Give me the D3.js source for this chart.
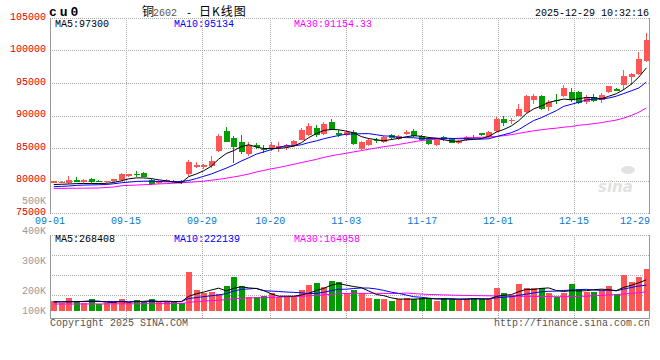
<!DOCTYPE html>
<html>
<head>
<meta charset="utf-8">
<script src="https://cdn.jsdelivr.net/npm/d3@7"></script>
<style>
  body { margin: 0; background: #fff; }
  svg { display: block; }
  text { font-family: "Liberation Mono", "DejaVu Sans Mono", monospace; font-size: 10px; }
</style>
</head>
<body>
<svg width="660" height="360"></svg>
<script>
// Daily candles, 80 trading days (09-01 .. 12-29)
const opens = [79650,79750,79550,80050,79700,80300,79900,79700,79850,80100,
  80650,80950,81100,80150,79650,80000,79950,80000,80950,82150,
  82100,82250,84550,87550,86600,85900,84050,85450,84900,84870,
  85000,85200,85260,86290,87010,88150,87170,88970,87370,87060,
  87450,84900,85410,86280,85870,86940,86400,87110,87680,86800,
  86450,85470,86650,86430,85820,86180,86750,87250,86740,87600,
  89490,89250,90000,90510,92450,92960,91330,92400,92960,93570,
  93570,92040,92810,92450,93570,94080,94750,95870,96380,98320];
const highs = [79900,79950,80750,80500,80200,80450,80050,80000,80300,81200,
  81050,81500,81300,80200,80100,80250,80050,80100,83100,82900,
  82500,83700,87150,88250,86850,87000,85850,85700,85500,86000,
  86000,85650,86300,88100,88870,88600,88970,89480,87700,87700,
  87840,86100,86500,86600,86800,87100,87000,87750,87900,86950,
  86700,86400,86850,86500,86300,86900,87050,87350,87600,89700,
  89900,89600,91700,93100,93300,93100,92400,93300,94700,94200,
  93700,93100,93300,93400,94600,94300,97000,96500,99800,102700];
const lows = [79550,79600,79450,79700,79600,79650,79700,79600,79750,80000,
  80500,80500,80500,79350,79500,79900,79700,79500,80700,82000,
  81700,82000,84400,85900,82750,84050,83800,84900,84300,84500,
  84400,84750,85150,86200,86900,86700,87000,87700,86700,86900,
  85420,84700,85300,85800,85700,86300,86200,86950,86700,86100,
  85500,85300,86100,85700,85650,86100,86400,86900,86600,87400,
  88400,88700,89900,90400,91800,90900,90700,91700,92800,92100,
  91800,91700,92100,92000,93400,93700,94000,94700,96200,98200];
const closes = [79850,79800,80100,79750,80100,79700,79850,79900,80250,81000,
  80950,80900,80600,79400,79950,80050,79750,79650,82800,82450,
  82400,83000,86900,86000,85200,84350,85500,85100,84650,85400,
  85350,85500,86140,87830,88450,86960,88760,87840,86960,87480,
  85620,85920,86280,86100,86640,86540,86900,87530,86790,86280,
  85620,86280,86330,85820,86080,86740,86650,86940,87500,89390,
  88780,89300,91020,92960,93060,91020,92040,92300,94240,92450,
  91940,92860,92300,93210,94490,93830,96120,96380,98670,101630];

// Price moving averages
const ma5 = [79380,79420,79460,79520,79540,79540,79540,79560,79700,79950,
  80250,80400,80400,80300,80100,79950,79750,79650,80600,81000,
  81500,82200,83300,84150,84600,85200,85500,85150,84920,84920,
  84950,85050,85300,85800,86600,87200,87700,87850,87800,87600,
  87330,86760,86450,86280,86110,86300,86490,86740,86880,86810,
  86620,86500,86260,86070,86030,86250,86320,86450,86780,87440,
  87850,88380,89200,90290,91020,91470,92020,92280,92530,92410,
  92590,92760,92760,92550,92960,93340,93990,94810,95900,97300];
const ma10 = [79050,79100,79150,79250,79300,79320,79350,79380,79500,79650,
  79750,79850,79900,79900,79850,79800,79800,79850,80000,80300,
  80650,81000,81450,81900,82400,83000,83500,84050,84400,84750,
  85100,85350,85320,85500,85830,86090,86420,86690,86920,87130,
  87160,87200,87210,87040,86860,86820,86630,86600,86580,86460,
  86460,86500,86500,86480,86420,86440,86410,86360,86430,86740,
  87050,87350,87830,88540,89230,89660,90200,90740,91410,91720,
  92030,92390,92520,92540,92690,92970,93380,93790,94230,95134];
const ma30 = [78780,78790,78800,78810,78820,78830,78850,78930,79000,79200,
  79250,79300,79350,79400,79480,79520,79580,79650,79720,79800,
  79900,80050,80180,80350,80550,80750,81000,81300,81550,81800,
  82000,82250,82500,82750,83000,83250,83550,83800,84000,84200,
  84400,84600,84800,85000,85200,85350,85550,85750,85950,86150,
  86250,86350,86400,86450,86500,86550,86600,86650,86700,86770,
  86900,87050,87250,87450,87650,87800,87950,88050,88200,88300,
  88500,88600,88750,88900,89100,89300,89600,90000,90500,91154];

// Volume per day and its moving averages
const volumes = [86000,66000,112000,86000,66000,103000,57000,66000,77000,103000,
  66000,95000,75000,103000,75000,77000,77000,66000,339000,181000,
  152000,167000,146000,218000,296000,218000,118000,118000,132000,152000,
  118000,118000,118000,181000,227000,241000,207000,259000,250000,158000,
  181000,158000,115000,103000,103000,89000,103000,115000,103000,115000,
  103000,89000,115000,103000,95000,103000,115000,103000,103000,201000,
  158000,138000,233000,201000,201000,201000,158000,123000,158000,236000,
  190000,167000,167000,181000,215000,146000,310000,253000,290000,362000];
const vma5 = [78000,78000,79000,80000,83200,86600,84800,75600,73800,81200,
  73800,81400,83200,88400,82800,85000,81400,79600,126800,148000,
  163000,181000,197000,172800,195800,209000,199200,193600,176400,147600,
  127600,127600,127600,137400,152400,177000,194800,223000,236800,223000,
  211000,201200,172400,143000,132000,113600,102600,102600,102600,105000,
  107800,105000,105000,105000,101000,101000,106200,103800,103800,125000,
  136000,140600,166600,186200,186200,194800,198800,176800,168200,175200,
  173000,174800,183600,188200,184000,175200,203800,221000,242800,268408];
const vma10 = [80000,80000,80000,80500,81000,81500,82000,82000,82000,82200,
  80200,83100,79400,81100,82000,79400,81400,81400,107600,115400,
  124000,131200,138300,149800,171900,186000,190100,195300,174600,171700,
  168300,163400,160600,156900,150000,152300,161200,175300,187100,187700,
  194000,198000,197700,189900,177500,162300,151900,137500,122800,118500,
  110700,103800,103800,103800,103000,104400,105600,104400,104400,113000,
  118500,123400,135200,145000,155600,165400,169700,171700,177200,180700,
  183900,186800,180200,178200,179600,174100,189300,202300,215500,222139];
const vma30 = [60000,60000,60000,60000,61000,61000,61000,61000,62000,62000,
  62000,62000,63000,63000,63000,64000,64000,64000,75000,80000,
  85000,89000,93000,98000,105000,110000,112000,114000,116000,118000,
  120000,122000,124000,127000,131000,135000,139000,144000,149000,151000,
  152000,152000,152000,152000,152000,151000,151000,155000,150000,146000,
  143000,141000,139000,137000,135000,134000,133000,132000,131000,130000,
  129000,128000,127000,126000,126000,125000,124000,123000,123000,124000,
  126000,128000,131000,134000,138000,142000,147000,152000,158000,164958];

// Axis labels
const tickIdx = [0, 10, 20, 29, 39, 49, 59, 69, 79];
const tickLabels = ["09-01","09-15","09-29","10-20","11-03","11-17","12-01","12-15","12-29"];
const priceTicks = [105000, 100000, 95000, 90000, 85000, 80000, 75000];
const volTicks = [500000, 400000, 300000, 200000, 100000];

const left = 50, right = 650;
const pTop = 18, pBottom = 213;
const vTop = 235, vBottom = 318, vBase = 311;
const UP = "#ff5555", DOWN = "#009c00";

const svg = d3.select("svg");
const n = closes.length;
const idx = d3.range(n);

// Candle slots and grid positions
const xBand = d3.scaleBand().domain(idx).range([left, right]);
const xGrid = d3.scalePoint().domain(idx).range([left, right]);
const cx = i => xBand(i) + xBand.bandwidth() / 2;

const y = d3.scaleLinear().domain([75000, 105000]).range([pBottom, pTop]);
const yv = d3.scaleLinear().domain([0, 655000]).range([vBase, vTop]);
const yvLabel = d3.scaleLinear().domain([200000, 500000]).range([290.7, 200.7]);

const gridStyle = g => g.attr("stroke", "#aaa").attr("stroke-dasharray", "1,1")
  .attr("shape-rendering", "crispEdges");

// Price panel grid
svg.append("g").call(gridStyle).selectAll("line")
  .data(priceTicks).enter().append("line")
  .attr("x1", left).attr("x2", right)
  .attr("y1", d => Math.round(y(d)) + 0.5).attr("y2", d => Math.round(y(d)) + 0.5);

svg.append("g").call(gridStyle).selectAll("line")
  .data(tickIdx.slice(1, -1)).enter().append("line")
  .attr("x1", d => Math.round(xGrid(d)) + 0.5).attr("x2", d => Math.round(xGrid(d)) + 0.5)
  .attr("y1", pTop).attr("y2", pBottom);

// Volume panel grid
const vGridY = d3.range(1, 4).map(k => vTop + (vBottom - vTop - 3) * k / 4);
svg.append("g").call(gridStyle).selectAll("line")
  .data([vTop].concat(vGridY)).enter().append("line")
  .attr("x1", left).attr("x2", right)
  .attr("y1", d => Math.round(d) + 0.5).attr("y2", d => Math.round(d) + 0.5);

svg.append("g").call(gridStyle).selectAll("line")
  .data(tickIdx.slice(1, -1)).enter().append("line")
  .attr("x1", d => Math.round(xGrid(d)) + 0.5).attr("x2", d => Math.round(xGrid(d)) + 0.5)
  .attr("y1", vTop).attr("y2", vBottom);

// Panel borders
const border = svg.append("g").attr("stroke", "#999").attr("shape-rendering", "crispEdges");
border.append("line").attr("x1", left + 0.5).attr("x2", left + 0.5).attr("y1", pTop).attr("y2", pBottom + 1);
border.append("line").attr("x1", right - 0.5).attr("x2", right - 0.5).attr("y1", pTop).attr("y2", pBottom + 1);
border.append("line").attr("x1", left + 0.5).attr("x2", left + 0.5).attr("y1", vTop).attr("y2", vBottom);
border.append("line").attr("x1", right - 0.5).attr("x2", right - 0.5).attr("y1", vTop).attr("y2", vBottom);
border.append("line").attr("x1", left).attr("x2", right).attr("y1", vBottom + 0.5).attr("y2", vBottom + 0.5);

// Watermark
const wm = svg.append("g").attr("fill", "#e2e2e2");
wm.append("text").attr("x", 598).attr("y", 192)
  .style("font-family", "DejaVu Sans").style("font-size", "15px")
  .style("font-style", "italic").style("font-weight", "bold").text("sina");
wm.append("ellipse").attr("cx", 628).attr("cy", 170).attr("rx", 7).attr("ry", 4);

// Candles
const candles = svg.append("g").attr("shape-rendering", "crispEdges");
candles.selectAll("line").data(idx).enter().append("line")
  .attr("x1", i => Math.floor(cx(i)) + 0.5).attr("x2", i => Math.floor(cx(i)) + 0.5)
  .attr("y1", i => y(highs[i])).attr("y2", i => y(lows[i]))
  .attr("stroke", i => closes[i] >= opens[i] ? UP : DOWN);
candles.selectAll("rect").data(idx).enter().append("rect")
  .attr("x", i => Math.floor(cx(i)) - 2.5)
  .attr("width", 6)
  .attr("y", i => y(Math.max(opens[i], closes[i])))
  .attr("height", i => Math.max(1, Math.abs(y(opens[i]) - y(closes[i]))))
  .attr("fill", i => closes[i] >= opens[i] ? UP : DOWN);

// Price moving averages
const priceLine = d3.line().x((d, i) => cx(i)).y(d => y(d));
[[ma30, "#ff00ff"], [ma10, "#0000ff"], [ma5, "#000"]].forEach(([s, c]) => {
  svg.append("path").datum(s).attr("d", priceLine)
    .attr("fill", "none").attr("stroke", c).attr("stroke-width", 1);
});

// Volume bars
svg.append("g").attr("shape-rendering", "crispEdges")
  .selectAll("rect").data(idx).enter().append("rect")
  .attr("x", i => Math.floor(cx(i)) - 2.5)
  .attr("width", 6)
  .attr("y", i => yv(volumes[i]))
  .attr("height", i => vBase - yv(volumes[i]))
  .attr("fill", i => closes[i] >= opens[i] ? UP : DOWN);

const volLine = d3.line().x((d, i) => cx(i)).y(d => yv(d));
[[vma30, "#ff00ff"], [vma10, "#0000ff"], [vma5, "#000"]].forEach(([s, c]) => {
  svg.append("path").datum(s).attr("d", volLine)
    .attr("fill", "none").attr("stroke", c).attr("stroke-width", 1);
});

// Price axis labels
svg.append("g").selectAll("text").data(priceTicks).enter().append("text")
  .attr("x", 46).attr("y", d => y(d) + 1.5)
  .attr("text-anchor", "end").attr("fill", "#e00000")
  .text(d => d);

// Volume axis labels
svg.append("g").selectAll("text").data(volTicks).enter().append("text")
  .attr("x", 46).attr("y", d => Math.min(yvLabel(d), 310.7) + 3.5)
  .attr("text-anchor", "end").attr("fill", "#999")
  .text(d => (d / 1000) + "K");

// Date labels
svg.append("g").selectAll("text").data(tickIdx).enter().append("text")
  .attr("x", (d, k) => k === tickIdx.length - 1 ? right : xGrid(d))
  .attr("y", 224)
  .attr("text-anchor", (d, k) => k === tickIdx.length - 1 ? "end" : "middle")
  .attr("fill", "#0a78cc")
  .text((d, k) => tickLabels[k]);

// Header
svg.append("text").attr("x", 49).attr("y", 16)
  .style("font-size", "13px").style("font-weight", "bold").style("letter-spacing", "3px")
  .text("cu0");
const cjk = "'Noto Sans CJK SC', sans-serif";
svg.append("text").attr("x", 142).attr("y", 16)
  .style("font-family", cjk).style("font-size", "12px").text("铜");
svg.append("text").attr("x", 153).attr("y", 16).attr("fill", "#555")
  .text("2602");
svg.append("text").attr("x", 186).attr("y", 16).text("-");
svg.append("text").attr("x", 199).attr("y", 16)
  .style("font-family", cjk).style("font-size", "12px").style("letter-spacing", "1px")
  .text("日K线图");
svg.append("text").attr("x", 649).attr("y", 15.5).attr("text-anchor", "end")
  .text("2025-12-29 10:32:16");

const legend = (yy, items) => items.forEach(([x, c, t]) => {
  svg.append("text").attr("x", x).attr("y", yy).attr("fill", c).text(t);
});
legend(26.5, [[55, "#000", "MA5:97300"], [174, "#0000ff", "MA10:95134"], [294, "#ff00ff", "MA30:91154.33"]]);
legend(241.5, [[55, "#000", "MA5:268408"], [174, "#0000ff", "MA10:222139"], [294, "#ff00ff", "MA30:164958"]]);

// Footer
svg.append("text").attr("x", 50).attr("y", 326).attr("fill", "#555")
  .text("Copyright 2025 SINA.COM");
svg.append("text").attr("x", 650).attr("y", 326).attr("fill", "#555")
  .attr("text-anchor", "end").text("http://finance.sina.com.cn");
</script>
</body>
</html>
